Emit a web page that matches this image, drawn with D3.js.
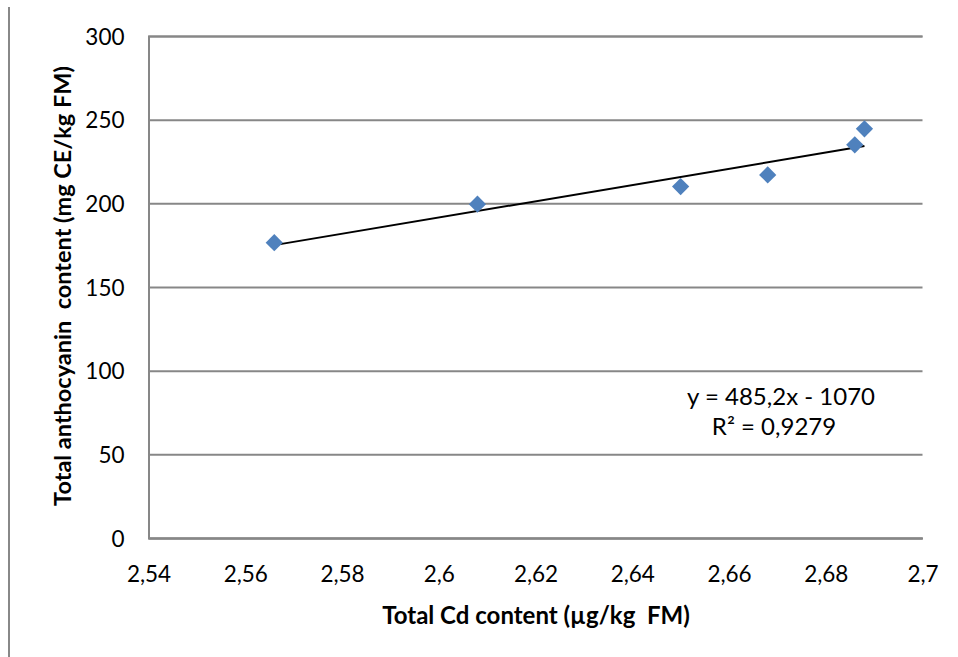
<!DOCTYPE html>
<html><head><meta charset="utf-8">
<script src="https://cdn.jsdelivr.net/npm/d3@7"></script>
<style>body{margin:0;background:#fff}svg{display:block}text{font-family:Lato,"Open Sans",sans-serif;fill:#000;white-space:pre}</style>
</head><body>
<script>
const xValues = [2.566, 2.608, 2.650, 2.668, 2.686, 2.688];
const yValues = [176.5, 199.5, 210, 217, 235, 244.5];
const xTicks = [2.54, 2.56, 2.58, 2.60, 2.62, 2.64, 2.66, 2.68, 2.70];
const yTicks = [0, 50, 100, 150, 200, 250, 300];
const slope = 485.2, intercept = -1070;
const eqLines = ["y = 485,2x - 1070", "R² = 0,9279"];
const xTitle = "Total Cd content (µg/kg  FM)";
const yTitle = "Total anthocyanin  content (mg CE/kg FM)";

const W = 958, H = 657;
const m = {left: 148.5, right: 922.5, top: 36, bottom: 538};
const svg = d3.select("body").append("svg").attr("width", W).attr("height", H);
const x = d3.scaleLinear().domain([2.54, 2.70]).range([m.left, m.right]);
const y = d3.scaleLinear().domain([0, 300]).range([m.bottom, m.top]);
const fmt = v => d3.format("~g")(+v.toFixed(2)).replace(".", ",");

// outer left line
svg.append("line").attr("x1", 9).attr("x2", 9).attr("y1", 7).attr("y2", H).attr("stroke", "#888").attr("stroke-width", 2);

// gridlines
const yAxis = d3.axisLeft(y).tickValues(yTicks).tickSize(-(m.right - m.left)).tickPadding(24).tickFormat(d => fmt(d));
const gy = svg.append("g").attr("transform", `translate(${m.left},0)`).call(yAxis);
gy.select(".domain").attr("stroke", "#878787").attr("stroke-width", 2);
gy.selectAll(".tick line").attr("stroke", "#878787").attr("stroke-width", 2);
gy.selectAll(".tick text").attr("font-size", 22.5).attr("dy", "0.36em").attr("font-family", "Lato");

const xAxis = d3.axisBottom(x).tickValues(xTicks).tickSize(0).tickPadding(28).tickFormat(d => fmt(d));
const gx = svg.append("g").attr("transform", `translate(0,${m.bottom})`).call(xAxis);
gx.select(".domain").attr("stroke", "#878787").attr("stroke-width", 2);
gx.selectAll(".tick text").attr("font-size", 22.5).attr("font-family", "Lato");

// trendline
const x0 = d3.min(xValues), x1 = d3.max(xValues);
svg.append("line").attr("x1", x(x0)).attr("y1", y(slope * x0 + intercept))
  .attr("x2", x(x1)).attr("y2", y(slope * x1 + intercept))
  .attr("stroke", "#000").attr("stroke-width", 2);

// points
const sym = d3.symbol().type(d3.symbolDiamond2).size(190);
svg.selectAll("path.pt").data(xValues.map((v, i) => [v, yValues[i]])).enter().append("path")
  .attr("class", "pt").attr("d", sym)
  .attr("transform", d => `translate(${x(d[0])},${y(d[1])})`)
  .attr("fill", "#4F81BD");

// equation
svg.selectAll("text.eq").data(eqLines).enter().append("text").attr("class", "eq")
  .attr("x", (d, i) => i === 0 ? 781 : 774).attr("y", (d, i) => 405 + i * 30)
  .attr("text-anchor", "middle").attr("font-size", 24).text(d => d);

// titles
svg.append("text").attr("x", 536).attr("y", 624).attr("text-anchor", "middle")
  .attr("font-size", 24).attr("font-weight", "bold").text(xTitle);
svg.append("text").attr("transform", "translate(71,286) rotate(-90)").attr("text-anchor", "middle")
  .attr("font-size", 23.5).attr("font-weight", "bold").text(yTitle);
</script>
</body></html>
